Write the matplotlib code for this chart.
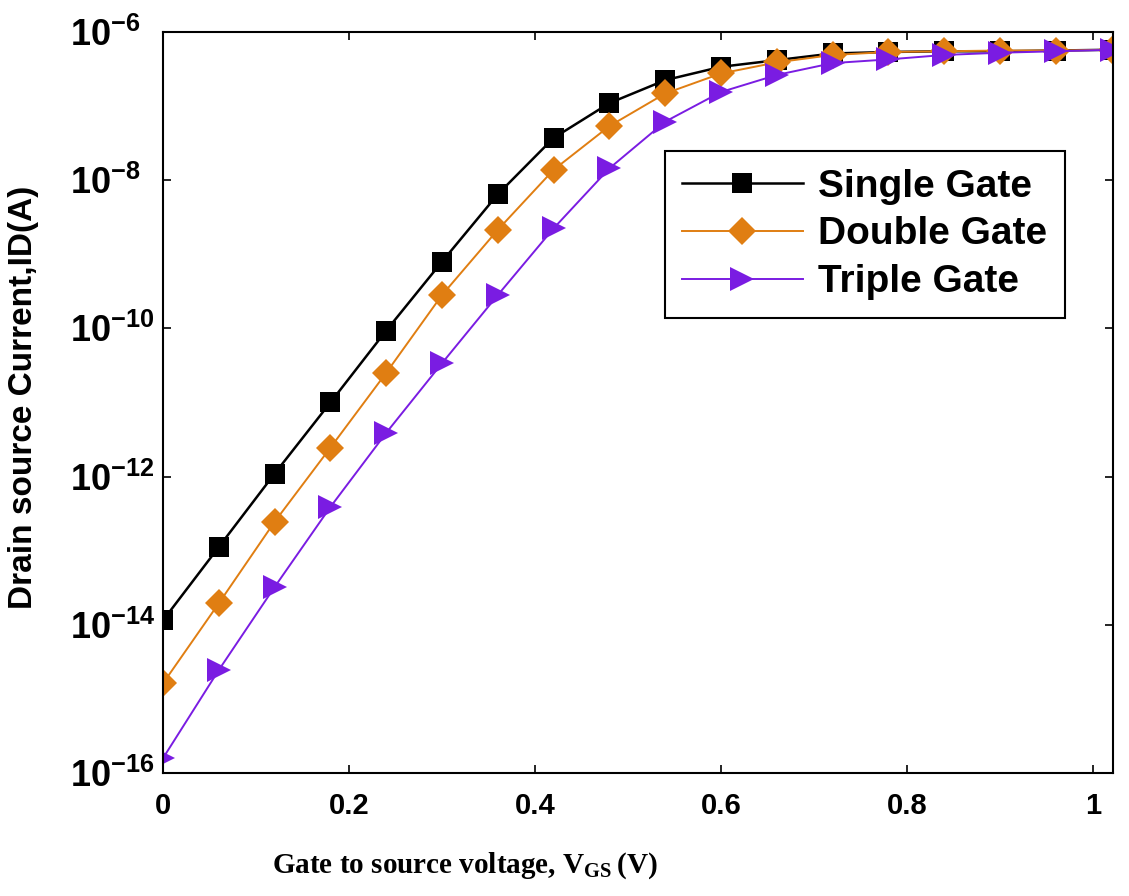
import numpy as np
import matplotlib
matplotlib.use("Agg")
import matplotlib.pyplot as plt
from matplotlib.ticker import FixedLocator, FuncFormatter

# Gate voltage (V) and log10 of drain current (A)
vgs = [0.00, 0.06, 0.12, 0.18, 0.24, 0.30, 0.36, 0.42, 0.48,
       0.54, 0.60, 0.66, 0.72, 0.78, 0.84, 0.90, 0.96, 1.02]
single_log = [-13.94, -12.95, -11.96, -11.00, -10.03, -9.10, -8.19, -7.43, -6.96,
              -6.65, -6.47, -6.38, -6.29, -6.27, -6.26, -6.26, -6.25, -6.24]
double_log = [-14.79, -13.71, -12.61, -11.61, -10.60, -9.55, -8.67, -7.86, -7.27,
              -6.83, -6.56, -6.41, -6.31, -6.27, -6.26, -6.25, -6.25, -6.24]
triple_log = [-15.80, -14.61, -13.49, -12.41, -11.41, -10.47, -9.55, -8.65, -7.84,
              -7.21, -6.81, -6.58, -6.42, -6.37, -6.31, -6.28, -6.26, -6.24]
labels = ["Single Gate", "Double Gate", "Triple Gate"]
x_ticks = [0, 0.2, 0.4, 0.6, 0.8, 1.0]
x_ticklabels = ["0", "0.2", "0.4", "0.6", "0.8", "1"]
y_exponents = [-16, -14, -12, -10, -8, -6]

plt.rcParams["mathtext.fontset"] = "custom"
plt.rcParams["mathtext.bf"] = "Liberation Sans:bold"
plt.rcParams["mathtext.rm"] = "Liberation Serif:bold"
plt.rcParams["font.family"] = "Liberation Sans"

fig = plt.figure(figsize=(11.29, 8.96), dpi=100)
ax = fig.add_axes([0.1444, 0.1373, 0.8414, 0.827])

styles = [
    dict(color="black", marker="s", markersize=14, linewidth=1.8),
    dict(color="#E07E12", marker="D", markersize=14, linewidth=1.4),
    dict(color="#7A1CE2", marker=">", markersize=17, linewidth=1.4),
]
for vals, lab, st in zip([single_log, double_log, triple_log], labels, styles):
    ax.plot(vgs, 10 ** np.array(vals), label=lab, markeredgewidth=0, **st)

ax.set_yscale("log")
ax.set_xlim(0, 1.0215)
ax.set_ylim(1e-16, 1e-6)

ax.xaxis.set_major_locator(FixedLocator(x_ticks))
ax.set_xticklabels(x_ticklabels)
ax.yaxis.set_major_locator(FixedLocator([10.0 ** e for e in y_exponents]))
ax.yaxis.set_minor_locator(FixedLocator([]))
ax.yaxis.set_major_formatter(
    FuncFormatter(lambda v, p: r"$\mathbf{10^{%d}}$" % int(round(np.log10(v)))))

ax.tick_params(axis="both", which="major", direction="in", length=6, width=1.2,
               top=True, right=True)
ax.tick_params(axis="x", labelsize=21, pad=14)
ax.tick_params(axis="y", labelsize=26, pad=67)
for t in ax.get_xticklabels():
    t.set_fontweight("bold")
for t in ax.get_yticklabels():
    t.set_horizontalalignment("left")
for s in ax.spines.values():
    s.set_linewidth(1.5)

leg = ax.legend(loc="upper left", bbox_to_anchor=(0.528, 0.839), borderaxespad=0,
                fancybox=False, edgecolor="black", framealpha=1,
                prop={"weight": "bold", "size": 28}, handlelength=3.1,
                handletextpad=0.4, labelspacing=0.3, borderpad=0.45)
leg.get_frame().set_linewidth(1.5)

fig.text(0.021, 0.557, "Drain source Current,ID(A)", rotation=90,
         ha="center", va="center", fontsize=24, fontweight="bold")
fig.text(0.412, 0.034, r"Gate to source voltage, $\mathrm{V}_{\mathrm{GS}}\,\mathrm{(V)}$",
         ha="center", va="center", fontsize=21, fontweight="bold",
         family="Liberation Serif")

fig.savefig("out.png", dpi=100)
